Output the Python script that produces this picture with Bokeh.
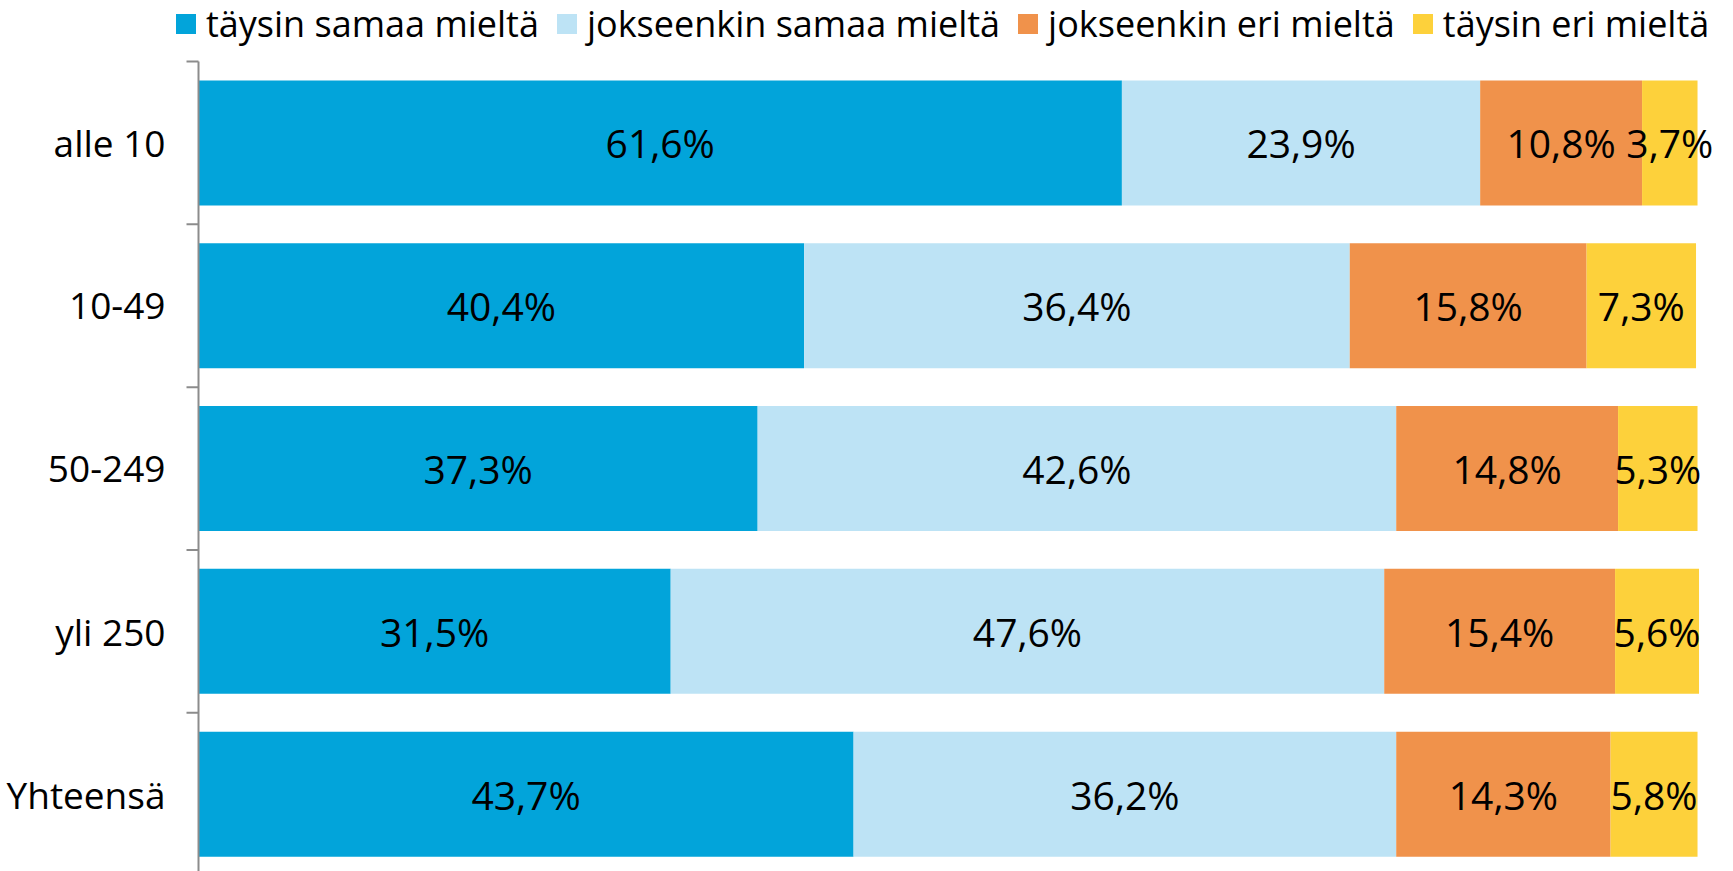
import math
from bokeh.plotting import figure
from bokeh.models import ColumnDataSource, Range1d
from bokeh.core.properties import value
from bokeh.embed import file_html
from bokeh.resources import INLINE

categories = ["alle 10", "10-49", "50-249", "yli 250", "Yhteensä"]
series_names = ["täysin samaa mieltä", "jokseenkin samaa mieltä", "jokseenkin eri mieltä", "täysin eri mieltä"]
taysin_samaa = [61.6, 40.4, 37.3, 31.5, 43.7]
jokseenkin_samaa = [23.9, 36.4, 42.6, 47.6, 36.2]
jokseenkin_eri = [10.8, 15.8, 14.8, 15.4, 14.3]
taysin_eri = [3.7, 7.3, 5.3, 5.6, 5.8]
colors = ["#02A4DA", "#BDE3F5", "#F0924B", "#FDD13B"]

series = [taysin_samaa, jokseenkin_samaa, jokseenkin_eri, taysin_eri]
keys = ["s0", "s1", "s2", "s3"]
ypos = [i + 0.5 for i in range(len(categories))]
bounds = list(range(len(categories) + 1))

data = {"y": ypos}
for k, s in zip(keys, series):
    data[k] = s
source = ColumnDataSource(data)

FONT = "Open Sans"
AXIS_COLOR = "#8C8C8C"

p = figure(width=1733, height=871, output_backend="svg", toolbar_location=None,
           x_range=Range1d(-13.209, 102.40), y_range=Range1d(4.975, -0.3747),
           x_axis_location=None, y_axis_location=None,
           min_border_left=0, min_border_right=0, min_border_top=0, min_border_bottom=0)
p.outline_line_color = None
p.xgrid.visible = False
p.ygrid.visible = False
p.background_fill_color = "white"

p.hbar_stack(keys, y="y", height=0.768, color=colors, line_color=None, source=source,
             legend_label=series_names)

# value labels
lx, ly, lt = [], [], []
for i, yv in enumerate(ypos):
    left = 0.0
    for s in series:
        v = s[i]
        lx.append(left + v / 2.0)
        ly.append(yv)
        lt.append(("%.1f" % v).replace(".", ",") + "%")
        left += v
p.text(x=lx, y=ly, text=lt, text_align="center", text_baseline="middle",
       text_font=value(FONT), text_font_size="39px", text_color="black")

# category axis: line at x=0, ticks at category boundaries, labels left of it
p.segment(x0=[0], y0=[bounds[0]], x1=[0], y1=[bounds[-1]], line_color=AXIS_COLOR, line_width=2)
p.ray(x=[0] * len(bounds), y=bounds, length=12, length_units="screen", angle=math.pi,
      line_color=AXIS_COLOR, line_width=2)
p.text(x=[0] * len(categories), y=ypos, text=categories, x_offset=-33,
       text_align="right", text_baseline="middle",
       text_font=value(FONT), text_font_size="37px", text_color="black")

lg = p.legend[0]
lg.orientation = "horizontal"
lg.location = (173, 823)
lg.padding = 0
lg.margin = 0
lg.spacing = 15
lg.glyph_width = 25
lg.glyph_height = 25
lg.label_standoff = 8
lg.border_line_color = None
lg.background_fill_alpha = 0
lg.label_text_font = FONT
lg.label_text_font_size = "36px"
lg.label_text_color = "black"

open("out.html", "w").write(file_html(p, INLINE))
